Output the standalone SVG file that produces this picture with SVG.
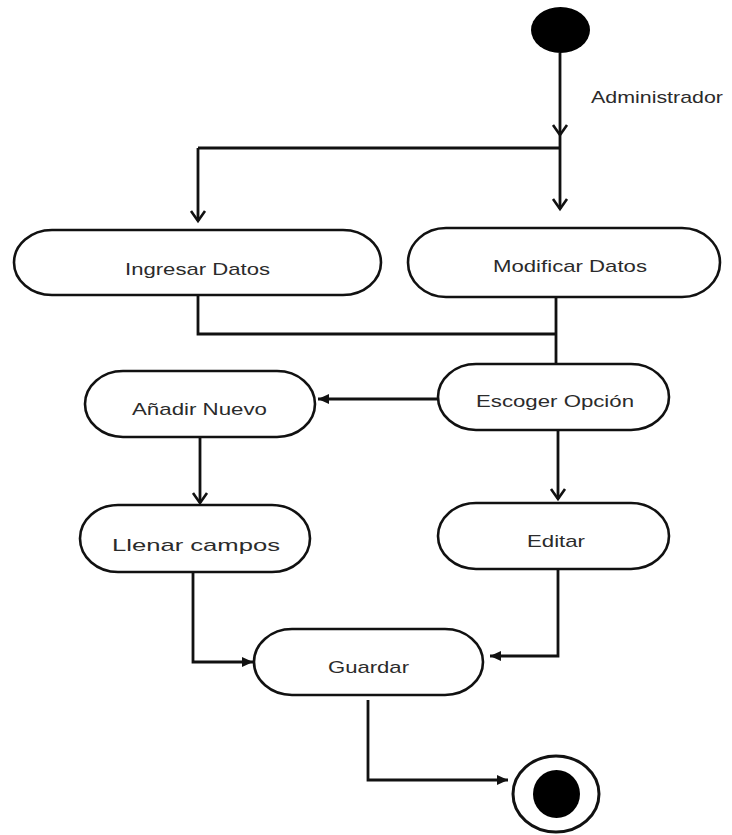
<svg xmlns="http://www.w3.org/2000/svg" width="732" height="835" viewBox="0 0 732 835">
  <style>
    .pill { fill: #ffffff; stroke: #111111; stroke-width: 2.6; }
    .lbl { font-family: "Liberation Sans", Arial, sans-serif; font-size: 17px; fill: #2b2b2b; }
    .wire { fill: none; stroke: #111111; stroke-width: 2.8; stroke-linejoin: miter; }
    .vee { marker-end: url(#vee); }
    .tri { marker-end: url(#tri); }
  </style>
  <defs>
    <!-- open V arrowhead -->
    <marker id="vee" markerUnits="userSpaceOnUse" viewBox="-12 -9 14 18" refX="0" refY="0" markerWidth="14" markerHeight="18" orient="auto" overflow="visible">
      <path d="M-10,-7 L0,0 L-10,7" fill="none" stroke="#111111" stroke-width="2.6"/>
    </marker>
    <!-- small filled arrowhead -->
    <marker id="tri" markerUnits="userSpaceOnUse" viewBox="-12 -7 13 14" refX="0" refY="0" markerWidth="13" markerHeight="14" orient="auto" overflow="visible">
      <path d="M-11,-5 L0,0 L-11,5 Z" fill="#111111"/>
    </marker>
  </defs>

  <rect width="732" height="835" fill="#ffffff"/>

  <!-- connectors -->
  <g id="connectors">
    <path class="wire vee" d="M560,53 V135"/>
    <path class="wire" d="M560,135 V148"/>
    <path class="wire vee" d="M560,148 V209"/>
    <path class="wire vee" d="M198,148 H560 M198,148 V221"/>
    <path class="wire" d="M198,295 V334 H556"/>
    <path class="wire" d="M556,297 V364"/>
    <path class="wire tri" d="M438,399 H318"/>
    <path class="wire vee" d="M558,430 V499"/>
    <path class="wire vee" d="M200,437 V503"/>
    <path class="wire tri" d="M193,572 V662 H253"/>
    <path class="wire tri" d="M558,569 V656 H490"/>
    <path class="wire tri" d="M368,700 V780 H508"/>
  </g>

  <!-- start -->
  <g id="start">
    <ellipse cx="560.5" cy="30" rx="29.5" ry="23" fill="#000000"/>
  </g>

  <text class="lbl" x="591" y="103" textLength="132" lengthAdjust="spacingAndGlyphs">Administrador</text>

  <g id="ingresar">
    <rect class="pill" x="14" y="230" width="367" height="65" rx="38" ry="32.5"/>
    <text class="lbl" x="125" y="275" textLength="145" lengthAdjust="spacingAndGlyphs">Ingresar Datos</text>
  </g>

  <g id="modificar">
    <rect class="pill" x="408" y="228" width="312" height="69" rx="38" ry="34.5"/>
    <text class="lbl" x="493" y="272" textLength="154" lengthAdjust="spacingAndGlyphs">Modificar Datos</text>
  </g>

  <g id="anadir">
    <rect class="pill" x="85" y="371" width="230" height="66" rx="38" ry="33"/>
    <text class="lbl" x="132" y="415" textLength="135" lengthAdjust="spacingAndGlyphs">Añadir Nuevo</text>
  </g>

  <g id="escoger">
    <rect class="pill" x="438" y="364" width="231" height="66" rx="38" ry="33"/>
    <text class="lbl" x="476" y="407" textLength="158" lengthAdjust="spacingAndGlyphs">Escoger Opción</text>
  </g>

  <g id="llenar">
    <rect class="pill" x="80" y="505" width="230" height="67" rx="38" ry="33.5"/>
    <text class="lbl" x="112" y="551" textLength="168" lengthAdjust="spacingAndGlyphs">Llenar campos</text>
  </g>

  <g id="editar">
    <rect class="pill" x="438" y="503" width="231" height="66" rx="38" ry="33"/>
    <text class="lbl" x="527" y="547" textLength="58" lengthAdjust="spacingAndGlyphs">Editar</text>
  </g>

  <g id="guardar">
    <rect class="pill" x="254" y="629" width="229" height="66" rx="38" ry="33"/>
    <text class="lbl" x="328" y="673" textLength="81" lengthAdjust="spacingAndGlyphs">Guardar</text>
  </g>

  <!-- end -->
  <g id="end">
    <ellipse cx="556" cy="794" rx="43" ry="38" fill="#ffffff" stroke="#111111" stroke-width="3"/>
    <ellipse cx="556.5" cy="794" rx="23.5" ry="24" fill="#000000"/>
  </g>
</svg>
